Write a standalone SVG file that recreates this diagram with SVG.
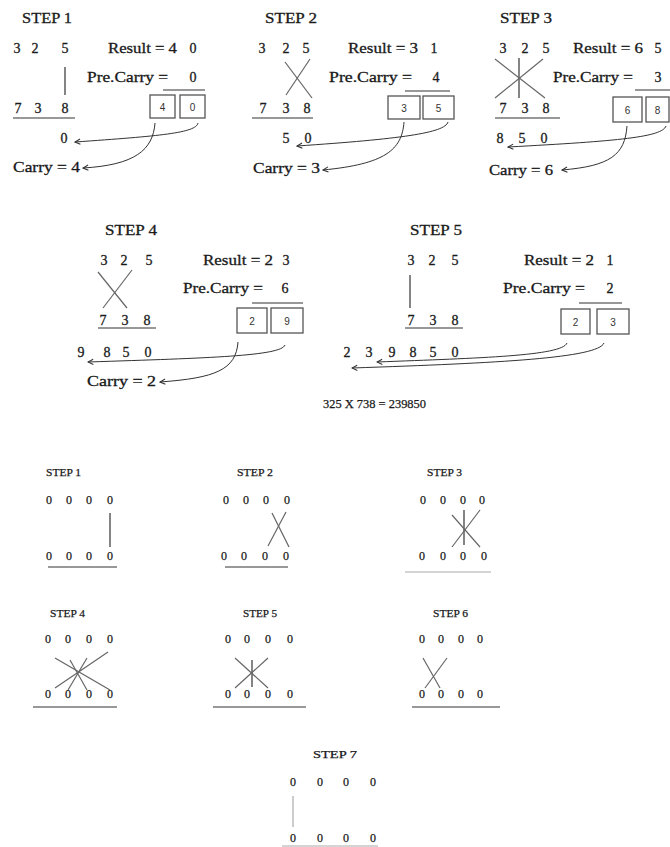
<svg xmlns="http://www.w3.org/2000/svg" width="670" height="847" viewBox="0 0 670 847">
<defs>
<style>
.t{font-family:"Liberation Serif",serif;font-size:15px;fill:#1a1a1a;stroke:#1a1a1a;stroke-width:0.3}
.d{font-family:"Liberation Serif",serif;font-size:14px;fill:#1a1a1a;stroke:#1a1a1a;stroke-width:0.3;text-anchor:middle}
.s{font-family:"Liberation Serif",serif;font-size:11px;fill:#1a1a1a;stroke:#1a1a1a;stroke-width:0.25}
.z{font-family:"Liberation Serif",serif;font-size:12px;fill:#1a1a1a;stroke:#1a1a1a;stroke-width:0.25;text-anchor:middle}
.b{font-family:"Liberation Sans",sans-serif;font-size:10px;fill:#333;text-anchor:middle}
.ln{stroke:#666;stroke-width:1.2;fill:none}
.ul{stroke:#333;stroke-width:1.2;fill:none}
.lu{stroke:#aaa;stroke-width:1.2;fill:none}
.box{fill:none;stroke:#555;stroke-width:1.3}
.arr{fill:none;stroke:#333;stroke-width:1;marker-end:url(#ah)}
</style>
<marker id="ah" viewBox="0 0 8 8" refX="7" refY="4" markerWidth="7" markerHeight="7" markerUnits="userSpaceOnUse" orient="auto">
<path d="M1,1 L7,4 L1,7" fill="none" stroke="#333" stroke-width="1.2"/>
</marker>
</defs>
<rect width="670" height="847" fill="#fff"/>

<g id="step1">
<text class="t" x="22" y="23" textLength="50" lengthAdjust="spacingAndGlyphs">STEP 1</text>
<text class="d" x="17" y="53">3</text><text class="d" x="35" y="53">2</text><text class="d" x="65" y="53">5</text>
<line class="ul" x1="65" y1="67" x2="65" y2="95"/>
<text class="d" x="18" y="113">7</text><text class="d" x="38" y="113">3</text><text class="d" x="65" y="113">8</text>
<line class="ul" x1="13" y1="118" x2="75" y2="118"/>
<text class="t" x="108" y="53" textLength="69" lengthAdjust="spacingAndGlyphs">Result = 4</text><text class="d" x="193" y="53">0</text>
<text class="t" x="87" y="82" textLength="81" lengthAdjust="spacingAndGlyphs">Pre.Carry =</text><text class="d" x="193" y="82">0</text>
<line class="ul" x1="163" y1="90" x2="205" y2="90"/>
<rect class="box" x="150" y="95" width="25" height="23"/><rect class="box" x="180" y="95" width="25" height="23"/>
<text class="b" x="162.5" y="111">4</text><text class="b" x="192.5" y="111">0</text>
<text class="d" x="64" y="143">0</text>
<text class="t" x="13" y="172" textLength="67" lengthAdjust="spacingAndGlyphs">Carry = 4</text>
</g>

<g id="step2">
<text class="t" x="265" y="23" textLength="52" lengthAdjust="spacingAndGlyphs">STEP 2</text>
<text class="d" x="262" y="53">3</text><text class="d" x="286" y="53">2</text><text class="d" x="306" y="53">5</text>
<line class="ln" x1="285" y1="62" x2="312" y2="98"/><line class="ln" x1="310" y1="59" x2="286" y2="95"/>
<text class="d" x="263" y="113">7</text><text class="d" x="286" y="113">3</text><text class="d" x="307" y="113">8</text>
<line class="ul" x1="252" y1="118" x2="313" y2="118"/>
<text class="t" x="348" y="53" textLength="70" lengthAdjust="spacingAndGlyphs">Result = 3</text><text class="d" x="434" y="53">1</text>
<text class="t" x="329" y="82" textLength="83" lengthAdjust="spacingAndGlyphs">Pre.Carry =</text><text class="d" x="436" y="82">4</text>
<line class="ul" x1="405" y1="91" x2="450" y2="91"/>
<rect class="box" x="388" y="96" width="32" height="23"/><rect class="box" x="423" y="96" width="31" height="23"/>
<text class="b" x="404" y="112">3</text><text class="b" x="438.5" y="112">5</text>
<text class="d" x="286" y="143">5</text><text class="d" x="308" y="143">0</text>
<text class="t" x="253" y="173" textLength="67" lengthAdjust="spacingAndGlyphs">Carry = 3</text>
</g>

<g id="step3">
<text class="t" x="500" y="23" textLength="52" lengthAdjust="spacingAndGlyphs">STEP 3</text>
<text class="d" x="503" y="53">3</text><text class="d" x="525" y="53">2</text><text class="d" x="546" y="53">5</text>
<line class="ul" x1="519" y1="58" x2="519" y2="98"/>
<line class="ln" x1="495" y1="59" x2="545" y2="98"/><line class="ln" x1="543" y1="59" x2="495" y2="98"/>
<text class="d" x="503" y="113">7</text><text class="d" x="525" y="113">3</text><text class="d" x="546" y="113">8</text>
<line class="ul" x1="495" y1="118" x2="560" y2="118"/>
<text class="t" x="573" y="53" textLength="70" lengthAdjust="spacingAndGlyphs">Result = 6</text><text class="d" x="658" y="53">5</text>
<text class="t" x="553" y="82" textLength="80" lengthAdjust="spacingAndGlyphs">Pre.Carry =</text><text class="d" x="658" y="82">3</text>
<line class="ul" x1="635" y1="90" x2="670" y2="90"/>
<rect class="box" x="613" y="97" width="29" height="25"/><rect class="box" x="646" y="97" width="23" height="25"/>
<text class="b" x="627.5" y="114">6</text><text class="b" x="657.5" y="114">8</text>
<text class="d" x="500" y="143">8</text><text class="d" x="522" y="143">5</text><text class="d" x="544" y="143">0</text>
<text class="t" x="489" y="175" textLength="64" lengthAdjust="spacingAndGlyphs">Carry = 6</text>
</g>

<g id="step4">
<text class="t" x="105" y="235" textLength="52" lengthAdjust="spacingAndGlyphs">STEP 4</text>
<text class="d" x="104" y="265">3</text><text class="d" x="124" y="265">2</text><text class="d" x="149" y="265">5</text>
<line class="ln" x1="98" y1="272" x2="127" y2="308"/><line class="ln" x1="132" y1="270" x2="103" y2="308"/>
<text class="d" x="103" y="325">7</text><text class="d" x="125" y="325">3</text><text class="d" x="147" y="325">8</text>
<line class="ul" x1="98" y1="328" x2="156" y2="328"/>
<text class="t" x="203" y="265" textLength="70" lengthAdjust="spacingAndGlyphs">Result = 2</text><text class="d" x="286" y="265">3</text>
<text class="t" x="183" y="293" textLength="80" lengthAdjust="spacingAndGlyphs">Pre.Carry =</text><text class="d" x="285" y="293">6</text>
<line class="ul" x1="252" y1="303" x2="303" y2="303"/>
<rect class="box" x="237" y="308" width="30" height="25"/><rect class="box" x="271" y="308" width="32" height="25"/>
<text class="b" x="252" y="325">2</text><text class="b" x="287" y="325">9</text>
<text class="d" x="81" y="357">9</text><text class="d" x="107" y="357">8</text><text class="d" x="126" y="357">5</text><text class="d" x="148" y="357">0</text>
<text class="t" x="87" y="386" textLength="69" lengthAdjust="spacingAndGlyphs">Carry = 2</text>
</g>

<g id="step5">
<text class="t" x="410" y="235" textLength="52" lengthAdjust="spacingAndGlyphs">STEP 5</text>
<text class="d" x="411" y="265">3</text><text class="d" x="432" y="265">2</text><text class="d" x="455" y="265">5</text>
<line class="ul" x1="410" y1="275" x2="410" y2="308"/>
<text class="d" x="411" y="325">7</text><text class="d" x="433" y="325">3</text><text class="d" x="455" y="325">8</text>
<line class="ul" x1="405" y1="328" x2="463" y2="328"/>
<text class="t" x="524" y="265" textLength="70" lengthAdjust="spacingAndGlyphs">Result = 2</text><text class="d" x="610" y="265">1</text>
<text class="t" x="503" y="293" textLength="82" lengthAdjust="spacingAndGlyphs">Pre.Carry =</text><text class="d" x="610" y="293">2</text>
<line class="ul" x1="579" y1="303" x2="622" y2="303"/>
<rect class="box" x="561" y="309" width="29" height="25"/><rect class="box" x="597" y="309" width="32" height="25"/>
<text class="b" x="575.5" y="326">2</text><text class="b" x="613" y="326">3</text>
<text class="d" x="347" y="357">2</text><text class="d" x="369" y="357">3</text><text class="d" x="392" y="357">9</text><text class="d" x="413" y="357">8</text><text class="d" x="433" y="357">5</text><text class="d" x="455" y="357">0</text>
</g>

<g id="equation">
<text class="t" x="323" y="408" textLength="103" lengthAdjust="spacingAndGlyphs" style="font-size:12px;stroke-width:0.25">325 X 738 = 239850</text>
</g>

<g id="connectors">
<path class="arr" d="M198,123 C196,133 160,136 75,142"/>
<path class="arr" d="M155,123 C153,150 135,165 83,168"/>
<path class="arr" d="M448,122 C445,133 400,139 297,146"/>
<path class="arr" d="M404,122 C402,150 385,164 323,170"/>
<path class="arr" d="M666,126 C662,137 620,141 508,147"/>
<path class="arr" d="M627,126 C625,155 610,166 562,170"/>
<path class="arr" d="M285,345 C281,356 210,358 88,362"/>
<path class="arr" d="M238,342 C236,370 215,378 160,382"/>
<path class="arr" d="M567,343 C562,356 480,358 377,362"/>
<path class="arr" d="M604,343 C598,358 500,363 352,368"/>
</g>

<g id="lstep1">
<text class="s" x="46" y="476" textLength="35" lengthAdjust="spacingAndGlyphs">STEP 1</text>
<text class="z" x="49" y="504">0</text><text class="z" x="69" y="504">0</text><text class="z" x="89" y="504">0</text><text class="z" x="110" y="504">0</text>
<line class="ul" x1="110" y1="513" x2="110" y2="547"/>
<text class="z" x="49" y="560">0</text><text class="z" x="69" y="560">0</text><text class="z" x="89" y="560">0</text><text class="z" x="110" y="560">0</text>
<line class="ul" x1="48" y1="567" x2="117" y2="567"/>
</g>

<g id="lstep2">
<text class="s" x="237" y="476" textLength="36" lengthAdjust="spacingAndGlyphs">STEP 2</text>
<text class="z" x="226" y="504">0</text><text class="z" x="246" y="504">0</text><text class="z" x="266" y="504">0</text><text class="z" x="287" y="504">0</text>
<line class="ln" x1="272" y1="513" x2="289" y2="547"/><line class="ln" x1="286" y1="512" x2="268" y2="546"/>
<text class="z" x="224" y="560">0</text><text class="z" x="244" y="560">0</text><text class="z" x="265" y="560">0</text><text class="z" x="286" y="560">0</text>
<line class="ul" x1="225" y1="567" x2="288" y2="567"/>
</g>

<g id="lstep3">
<text class="s" x="427" y="476" textLength="35" lengthAdjust="spacingAndGlyphs">STEP 3</text>
<text class="z" x="423" y="504">0</text><text class="z" x="443" y="504">0</text><text class="z" x="463" y="504">0</text><text class="z" x="482" y="504">0</text>
<line class="ul" x1="464" y1="510" x2="464" y2="545"/>
<line class="ln" x1="452" y1="515" x2="480" y2="547"/><line class="ln" x1="480" y1="510" x2="452" y2="547"/>
<text class="z" x="422" y="560">0</text><text class="z" x="443" y="560">0</text><text class="z" x="463" y="560">0</text><text class="z" x="484" y="560">0</text>
<line class="lu" x1="405" y1="572" x2="491" y2="572"/>
</g>

<g id="lstep4">
<text class="s" x="50" y="617" textLength="35" lengthAdjust="spacingAndGlyphs">STEP 4</text>
<text class="z" x="48" y="643">0</text><text class="z" x="68" y="643">0</text><text class="z" x="89" y="643">0</text><text class="z" x="110" y="643">0</text>
<line class="ln" x1="55" y1="658" x2="110" y2="690"/><line class="ln" x1="70" y1="660" x2="87" y2="690"/>
<line class="ln" x1="87" y1="658" x2="68" y2="690"/><line class="ln" x1="108" y1="652" x2="55" y2="688"/>
<text class="z" x="48" y="698">0</text><text class="z" x="68" y="698">0</text><text class="z" x="89" y="698">0</text><text class="z" x="110" y="698">0</text>
<line class="ul" x1="33" y1="707" x2="117" y2="707"/>
</g>

<g id="lstep5">
<text class="s" x="243" y="617" textLength="34" lengthAdjust="spacingAndGlyphs">STEP 5</text>
<text class="z" x="228" y="643">0</text><text class="z" x="247" y="643">0</text><text class="z" x="268" y="643">0</text><text class="z" x="290" y="643">0</text>
<line class="ul" x1="252" y1="660" x2="252" y2="687"/>
<line class="ln" x1="235" y1="658" x2="268" y2="688"/><line class="ln" x1="268" y1="658" x2="235" y2="688"/>
<text class="z" x="228" y="698">0</text><text class="z" x="247" y="698">0</text><text class="z" x="268" y="698">0</text><text class="z" x="290" y="698">0</text>
<line class="ul" x1="213" y1="707" x2="306" y2="707"/>
</g>

<g id="lstep6">
<text class="s" x="433" y="617" textLength="35" lengthAdjust="spacingAndGlyphs">STEP 6</text>
<text class="z" x="422" y="643">0</text><text class="z" x="441" y="643">0</text><text class="z" x="461" y="643">0</text><text class="z" x="480" y="643">0</text>
<line class="ln" x1="423" y1="658" x2="440" y2="688"/><line class="ln" x1="447" y1="658" x2="425" y2="688"/>
<text class="z" x="422" y="698">0</text><text class="z" x="441" y="698">0</text><text class="z" x="461" y="698">0</text><text class="z" x="480" y="698">0</text>
<line class="ul" x1="412" y1="707" x2="500" y2="707"/>
</g>

<g id="lstep7">
<text class="s" x="313" y="758" textLength="44" lengthAdjust="spacingAndGlyphs">STEP 7</text>
<text class="z" x="293" y="786">0</text><text class="z" x="320" y="786">0</text><text class="z" x="346" y="786">0</text><text class="z" x="373" y="786">0</text>
<line class="lu" x1="293" y1="796" x2="293" y2="827"/>
<text class="z" x="293" y="842">0</text><text class="z" x="320" y="842">0</text><text class="z" x="346" y="842">0</text><text class="z" x="373" y="842">0</text>
<line class="lu" x1="282" y1="846" x2="378" y2="846"/>
</g>
</svg>
